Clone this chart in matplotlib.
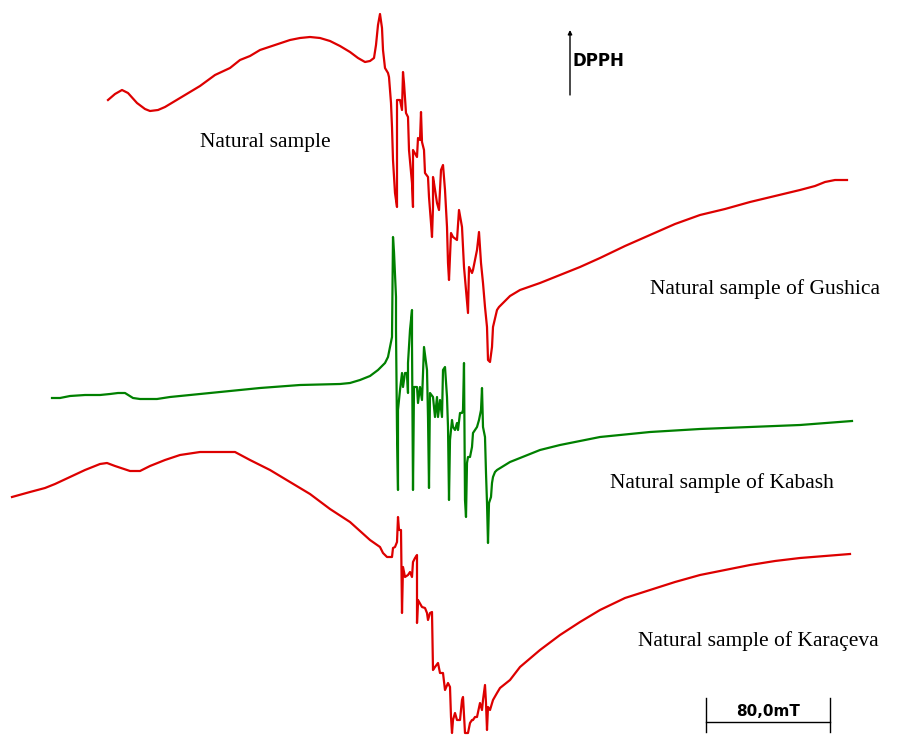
import matplotlib
matplotlib.use("Agg")
import matplotlib.pyplot as plt

# EPR spectra (field position, signal), screen-like units
natural_x = [108, 115, 122, 128, 137, 145, 150, 158, 165, 180, 200, 215, 230, 240, 250, 260,
             275, 290, 300, 310, 320, 330, 340, 350, 358, 365, 370, 374, 376, 378, 380, 382,
             383, 385, 388, 389, 391, 392, 393, 395, 397, 397, 400, 402, 403, 404, 406, 408,
             409, 412, 413, 413, 417, 418, 420, 421, 422, 424, 425, 428, 429, 431, 432, 433,
             433, 434, 437, 439, 441, 443, 445, 447, 448, 449, 451, 453, 457, 459, 462, 463,
             464, 466, 468, 469, 472, 473, 477, 479, 481, 483, 485, 487, 488, 490, 492, 493,
             497, 499, 510, 520, 540, 560, 580, 600, 625, 650, 675, 700, 725, 750, 775, 800,
             815, 825, 835, 847]
natural_y = [100, 94, 90, 93, 103, 109, 111, 110, 107, 98, 86, 75, 68, 60, 56, 50,
             45, 40, 38, 37, 38, 41, 46, 52, 58, 62, 61, 58, 45, 25, 14, 28,
             50, 68, 73, 77, 103, 127, 160, 193, 207, 100, 100, 110, 72, 83, 113, 117,
             150, 183, 207, 150, 157, 138, 140, 112, 142, 150, 173, 177, 197, 223, 237, 207,
             177, 183, 203, 210, 170, 165, 190, 227, 263, 280, 233, 237, 240, 210, 227, 247,
             267, 290, 313, 267, 273, 270, 250, 232, 263, 283, 307, 327, 360, 362, 347, 327,
             310, 307, 296, 290, 283, 275, 267, 258, 246, 235, 224, 215, 209, 202, 196, 190,
             186, 182, 180, 180]

kabash_x = [52, 60, 70, 85, 100, 110, 118, 125, 133, 140, 157, 170, 200, 230, 260, 300,
            340, 350, 360, 370, 378, 385, 388, 390, 392, 393, 394, 396, 396, 397, 398, 398,
            400, 402, 403, 405, 407, 408, 408, 410, 412, 412, 413, 414, 417, 418, 420, 422,
            424, 427, 428, 429, 430, 433, 435, 437, 438, 440, 442, 443, 445, 447, 448, 449,
            450, 452, 453, 455, 457, 458, 460, 462, 463, 464, 465, 466, 467, 468, 470, 472,
            473, 475, 477, 479, 481, 482, 483, 485, 486, 487, 488, 489, 491, 492, 493, 495,
            497, 510, 520, 540, 560, 600, 650, 700, 750, 800, 852]
kabash_y = [398, 398, 396, 395, 395, 394, 393, 393, 398, 399, 399, 397, 394, 391, 388, 385,
            384, 383, 380, 376, 370, 363, 357, 347, 337, 237, 252, 297, 330, 430, 490, 410,
            390, 373, 387, 373, 373, 393, 363, 330, 310, 343, 490, 387, 387, 403, 387, 400,
            347, 370, 417, 488, 393, 397, 417, 397, 417, 400, 417, 370, 367, 397, 427, 500,
            440, 420, 427, 430, 423, 430, 413, 413, 410, 363, 500, 517, 463, 457, 457, 447,
            433, 430, 427, 420, 410, 388, 427, 437, 473, 503, 543, 503, 497, 483, 477, 472,
            470, 462, 458, 450, 445, 437, 432, 429, 427, 425, 421]

karaceva_x = [12, 30, 45, 55, 70, 85, 100, 107, 115, 130, 140, 150, 165, 180, 200, 235,
              250, 270, 290, 310, 330, 350, 370, 380, 383, 387, 392, 393, 395, 397, 398, 399,
              401, 402, 403, 405, 408, 410, 412, 413, 415, 417, 417, 418, 422, 425, 427, 428,
              430, 432, 433, 435, 438, 440, 443, 445, 448, 450, 451, 452, 453, 455, 457, 460,
              462, 463, 465, 468, 470, 472, 473, 475, 477, 480, 482, 483, 485, 486, 487, 488,
              490, 493, 497, 500, 510, 520, 540, 560, 580, 600, 625, 650, 675, 700, 725, 750,
              775, 800, 825, 850]
karaceva_y = [497, 492, 488, 484, 477, 470, 464, 463, 466, 471, 471, 466, 460, 455, 452, 452,
              460, 470, 482, 494, 509, 522, 540, 547, 553, 557, 557, 548, 547, 542, 517, 530,
              530, 613, 567, 577, 575, 572, 577, 562, 558, 555, 623, 600, 607, 608, 613, 620,
              613, 612, 670, 667, 663, 673, 673, 690, 683, 687, 717, 733, 720, 713, 720, 720,
              700, 697, 733, 733, 723, 720, 720, 717, 717, 703, 710, 700, 685, 703, 730, 707,
              710, 700, 693, 688, 680, 667, 650, 635, 622, 610, 598, 590, 582, 575, 570, 565,
              561, 558, 556, 554]

labels = ["Natural sample", "Natural sample of Gushica",
          "Natural sample of Kabash", "Natural sample of Karaçeva"]
scale_text = "80,0mT"
marker_text = "DPPH"

RED = "#dd0000"
GREEN = "#008000"

fig = plt.figure(figsize=(9.09, 7.36), dpi=100)
ax = fig.add_axes([0, 0, 1, 1])
ax.set_xlim(0, 909)
ax.set_ylim(736, 0)
ax.axis("off")

ax.plot(natural_x, natural_y, color=RED, lw=1.6)
ax.plot(kabash_x, kabash_y, color=GREEN, lw=1.6)
ax.plot(karaceva_x, karaceva_y, color=RED, lw=1.6)

serif = ["Liberation Serif", "DejaVu Serif"]
ax.text(200, 142, labels[0], fontsize=15.5, family=serif, va="center", ha="left")
ax.text(650, 289, labels[1], fontsize=15.5, family=serif, va="center", ha="left")
ax.text(610, 483, labels[2], fontsize=15.5, family=serif, va="center", ha="left")
ax.text(638, 641, labels[3], fontsize=15.5, family=serif, va="center", ha="left")

# DPPH marker
ax.annotate("", xy=(570, 30), xytext=(570, 95),
            arrowprops=dict(arrowstyle="-|>", color="black", lw=1.0,
                            mutation_scale=6, shrinkA=0, shrinkB=0))
ax.text(573, 61, marker_text, fontsize=12, fontweight="bold", va="center", ha="left")

# scale bar
ax.plot([706, 830], [722, 722], color="black", lw=1.0)
ax.plot([706, 706], [698, 732], color="black", lw=1.0)
ax.plot([830, 830], [698, 732], color="black", lw=1.0)
ax.text(768, 711, scale_text, fontsize=11, fontweight="bold", va="center", ha="center")

fig.savefig("out.png", dpi=100)
